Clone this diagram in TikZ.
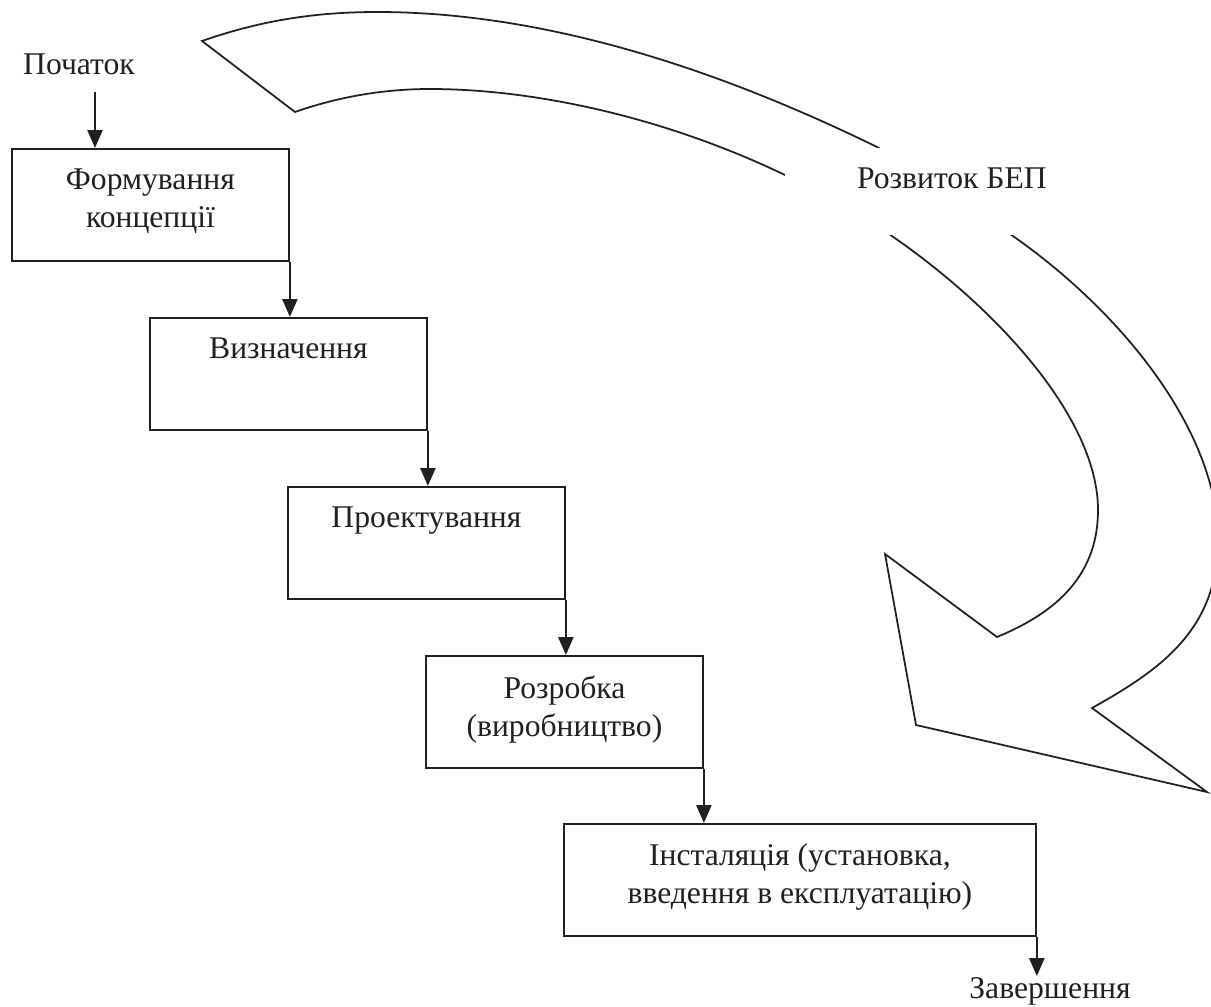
\documentclass[tikz,border=0pt]{standalone}
\usepackage{fontspec}
\setmainfont{Liberation Serif}
\usepackage{tikz}
\usetikzlibrary{arrows.meta, positioning}
\definecolor{ink}{RGB}{35,31,32}

\begin{document}
\begin{tikzpicture}[x=0.02cm, y=-0.02cm, color=ink, line width=1.1pt,
  font=\fontsize{18}{21.6}\selectfont,
  stage/.style={draw, rectangle, anchor=north west, minimum width=5.54cm, minimum height=2.25cm, inner sep=0pt},
  caption/.style={anchor=north, align=center, inner sep=0pt, yshift=-0.4cm},
  flow/.style={-{Triangle[width=0.3cm, length=0.36cm]}, line width=1.4pt}]
  \useasboundingbox (0,0) rectangle (1211,1007);

  % Curved arrow (development)
  \draw[line width=1pt] (202,41) .. controls (262,20) and (317,12) .. (377,12)
    .. controls (560,12) and (740,80) .. (877,147)
    -- (1010,234) .. controls (1120,310) and (1218,430) .. (1218,540)
    .. controls (1218,630) and (1160,670) .. (1092,708)
    -- (1207,792) -- (916,725) -- (885,554) -- (997,637)
    .. controls (1050,615) and (1098,580) .. (1098,510)
    .. controls (1098,420) and (1000,310) .. (889,234)
    -- (785,175) .. controls (660,115) and (530,89) .. (430,89)
    .. controls (380,89) and (335,98) .. (295,112) -- cycle;
  \node[fill=white, anchor=north west, minimum width=6.68cm, minimum height=1.74cm, inner sep=0pt] (devbox) at (784,147) {};
  \node[caption] (dev) at (devbox.north) {Розвиток БЕП};

  % Stages
  \node[stage] (b1) at (11,148) {};
  \node[caption] (t1) at (b1.north) {Формування\\концепції};
  \node[stage] (b2) at (149,317) {};
  \node[caption] (t2) at (b2.north) {Визначення};
  \node[stage] (b3) at (287,486) {};
  \node[caption] (t3) at (b3.north) {Проектування};
  \node[stage] (b4) at (425,655) {};
  \node[caption] (t4) at (b4.north) {Розробка\\(виробництво)};
  \node[stage, minimum width=9.44cm] (b5) at (563,823) {};
  \node[caption] (t5) at (b5.north) {Інсталяція (установка,\\введення в експлуатацію)};

  % Start and finish
  \node[anchor=base, inner sep=0pt] (start) at (79,75) {Початок};
  \node[anchor=base, inner sep=0pt] (fin) at (1050,998) {Завершення};
  \coordinate (in) at (95,92);

  % Flow arrows
  \draw[flow] (in) -- (in |- b1.north);
  \draw[flow] (b1.south east) -- (b1.south east |- b2.north);
  \draw[flow] (b2.south east) -- (b2.south east |- b3.north);
  \draw[flow] (b3.south east) -- (b3.south east |- b4.north);
  \draw[flow] (b4.south east) -- (b4.south east |- b5.north);
  \draw[flow] (b5.south east) -- (b5.south east |- fin.north);
\end{tikzpicture}
\end{document}
